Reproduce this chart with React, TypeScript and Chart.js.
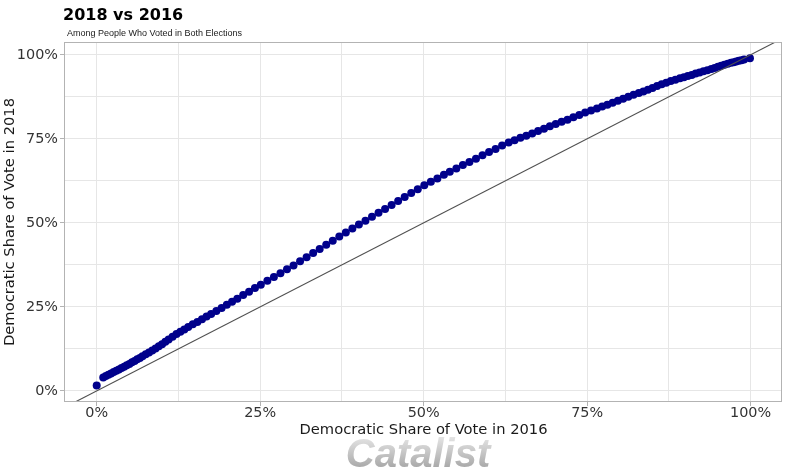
import React, { useEffect, useRef } from "react";
import { Chart, registerables } from "chart.js";

Chart.register(...registerables);

// Democratic share of the two-party vote (%), 2016 (x) vs 2018 (y)
const share2016 = [
  0, 1.0, 1.4, 1.8, 2.2, 2.6, 3.0, 3.4, 3.8, 4.2, 4.6, 5.0, 5.4, 5.8, 6.2, 6.6, 7.0, 7.5, 8.0, 8.5,
  9.0, 9.5, 10.0, 10.5, 11.0, 11.6, 12.2, 12.8, 13.4, 14.0, 14.7, 15.4, 16.1, 16.8, 17.5, 18.3,
  19.1, 19.9, 20.7, 21.5, 22.4, 23.3, 24.2, 25.1, 26.1, 27.1, 28.1, 29.1, 30.1, 31.1, 32.1, 33.1,
  34.1, 35.1, 36.1, 37.1, 38.1, 39.1, 40.1, 41.1, 42.1, 43.1, 44.1, 45.1, 46.1, 47.1, 48.1, 49.1,
  50.1, 51.1, 52.1, 53.1, 54.0, 55.0, 56.0, 57.0, 58.0, 59.0, 60.0, 61.0, 62.0, 63.0, 63.9, 64.8,
  65.7, 66.6, 67.5, 68.4, 69.3, 70.2, 71.1, 72.0, 72.9, 73.8, 74.7, 75.6, 76.5, 77.3, 78.1, 78.9,
  79.7, 80.5, 81.3, 82.1, 82.9, 83.6, 84.3, 85.0, 85.7, 86.4, 87.1, 87.8, 88.5, 89.2, 89.8, 90.4,
  91.0, 91.6, 92.2, 92.8, 93.4, 94.0, 94.5, 95.0, 95.5, 96.0, 96.5, 97.0, 97.4, 97.8, 98.2, 98.6,
  99.0, 99.9,
];
const share2018 = [
  1.6, 4.0, 4.4, 4.8, 5.2, 5.6, 6.0, 6.4, 6.8, 7.2, 7.6, 8.0, 8.5, 8.9, 9.4, 9.8, 10.3, 10.9, 11.4, 12.0,
  12.6, 13.3, 13.9, 14.6, 15.3, 16.1, 16.9, 17.6, 18.3, 19.0, 19.8, 20.5, 21.3, 22.1, 22.9, 23.8,
  24.7, 25.6, 26.5, 27.4, 28.5, 29.5, 30.6, 31.6, 32.8, 33.9, 35.0, 36.2, 37.3, 38.6, 39.8, 41.0,
  42.2, 43.5, 44.7, 45.9, 47.1, 48.3, 49.5, 50.6, 51.8, 53.0, 54.1, 55.3, 56.5, 57.7, 58.9, 60.0,
  61.2, 62.2, 63.2, 64.3, 65.2, 66.2, 67.2, 68.1, 69.1, 70.1, 71.1, 72.0, 73.0, 73.9, 74.6, 75.3,
  75.9, 76.6, 77.3, 78.0, 78.7, 79.4, 80.1, 80.7, 81.4, 82.1, 82.8, 83.4, 84.0, 84.6, 85.1, 85.7,
  86.3, 86.9, 87.5, 88.1, 88.6, 89.1, 89.6, 90.1, 90.7, 91.2, 91.7, 92.2, 92.6, 93.0, 93.3, 93.7,
  94.0, 94.4, 94.7, 95.1, 95.4, 95.8, 96.1, 96.4, 96.7, 97.0, 97.3, 97.6, 97.8, 98.0, 98.2, 98.4,
  98.6, 99.0,
];

const majorTicks = [0, 25, 50, 75, 100];
const minorTicks = [12.5, 37.5, 62.5, 87.5];
const tickLabels = ["0%", "25%", "50%", "75%", "100%"];
const parityLine = [-10, 110];

const titleText = "2018 vs 2016";
const subtitleText = "Among People Who Voted in Both Elections";
const xTitle = "Democratic Share of Vote in 2016";
const yTitle = "Democratic Share of Vote in 2018";
const watermark = "Catalist";

export default function App() {
  const ref = useRef<HTMLCanvasElement>(null);

  useEffect(() => {
    const canvas = ref.current;
    if (!canvas) return;
    const allTicks = [...majorTicks, ...minorTicks].sort((a, b) => a - b);
    const setTicks = (scale: any) => {
      scale.ticks = allTicks.map((v) => ({ value: v }));
    };
    const label = (v: any) => {
      const i = majorTicks.indexOf(Number(v));
      return i >= 0 ? tickLabels[i] : "";
    };
    const tickColor = (c: any) =>
      c.tick && majorTicks.includes(c.tick.value) ? "#b3b3b3" : "rgba(0,0,0,0)";

    const decor = {
      id: "decor",
      beforeDraw(chart: any) {
        const { ctx, width, height } = chart;
        ctx.save();
        ctx.fillStyle = "#ffffff";
        ctx.fillRect(0, 0, width, height);
        ctx.restore();
      },
      afterDraw(chart: any) {
        const { ctx, chartArea: a } = chart;
        ctx.save();
        ctx.strokeStyle = "#b3b3b3";
        ctx.lineWidth = 1;
        ctx.strokeRect(a.left + 0.5, a.top + 0.5, a.right - a.left - 1, a.bottom - a.top - 1);

        ctx.fillStyle = "#000000";
        ctx.textAlign = "left";
        ctx.textBaseline = "alphabetic";
        ctx.font = 'bold 16px "DejaVu Sans"';
        ctx.fillText(titleText, 63, 20);
        ctx.fillStyle = "#1a1a1a";
        ctx.font = '9px "Liberation Sans"';
        ctx.fillText(subtitleText, 67, 36);

        ctx.fillStyle = "#1a1a1a";
        ctx.font = '14.7px "DejaVu Sans"';
        ctx.textAlign = "center";
        ctx.fillText(xTitle, (a.left + a.right) / 2 + 0.5, 434);
        ctx.save();
        ctx.translate(14, (a.top + a.bottom) / 2);
        ctx.rotate(-Math.PI / 2);
        ctx.fillText(yTitle, 0, 0);
        ctx.restore();

        const g = ctx.createLinearGradient(0, 437, 0, 468);
        g.addColorStop(0, "#e4e4e4");
        g.addColorStop(1, "#a8a8a8");
        ctx.fillStyle = g;
        ctx.font = 'italic bold 40px "Liberation Sans"';
        ctx.textAlign = "center";
        ctx.fillText(watermark, 418, 467);
        ctx.restore();
      },
    };

    const chart = new Chart(canvas, {
      type: "scatter",
      data: {
        datasets: [
          {
            type: "line",
            data: parityLine.map((v) => ({ x: v, y: v })),
            borderColor: "#505050",
            borderWidth: 1.1,
            pointRadius: 0,
            fill: false,
          } as any,
          {
            data: share2016.map((x, i) => ({ x, y: share2018[i] })),
            backgroundColor: "#00008b",
            borderWidth: 0,
            pointRadius: 4,
          },
        ],
      },
      options: {
        responsive: false,
        animation: false,
        devicePixelRatio: 1,
        layout: { padding: { top: 42, right: 4, left: 0, bottom: 0 } },
        plugins: { legend: { display: false }, tooltip: { enabled: false }, title: { display: false } },
        scales: {
          x: {
            type: "linear",
            min: -5,
            max: 104.8,
            afterBuildTicks: setTicks,
            afterFit: (s: any) => {
              s.height = 70;
            },
            border: { display: false },
            grid: { color: "#e6e6e6", lineWidth: 1, tickLength: 4, tickColor },
            ticks: {
              callback: label,
              autoSkip: false,
              maxRotation: 0,
              padding: -1,
              color: "#333333",
              font: { family: '"DejaVu Sans"', size: 14.4 },
            },
          },
          y: {
            type: "linear",
            min: -3.3,
            max: 103.8,
            afterBuildTicks: setTicks,
            afterFit: (s: any) => {
              s.width = 64;
            },
            border: { display: false },
            grid: { color: "#e6e6e6", lineWidth: 1, tickLength: 4, tickColor },
            ticks: {
              callback: label,
              autoSkip: false,
              padding: 2,
              color: "#333333",
              font: { family: '"DejaVu Sans"', size: 14.4 },
            },
          },
        },
      },
      plugins: [decor],
    });
    return () => chart.destroy();
  }, []);

  return (
    <div style={{ position: "absolute", left: 0, top: 0, width: 786, height: 472, background: "#fff" }}>
      <canvas ref={ref} width={786} height={472} style={{ display: "block", width: 786, height: 472 }} />
    </div>
  );
}
